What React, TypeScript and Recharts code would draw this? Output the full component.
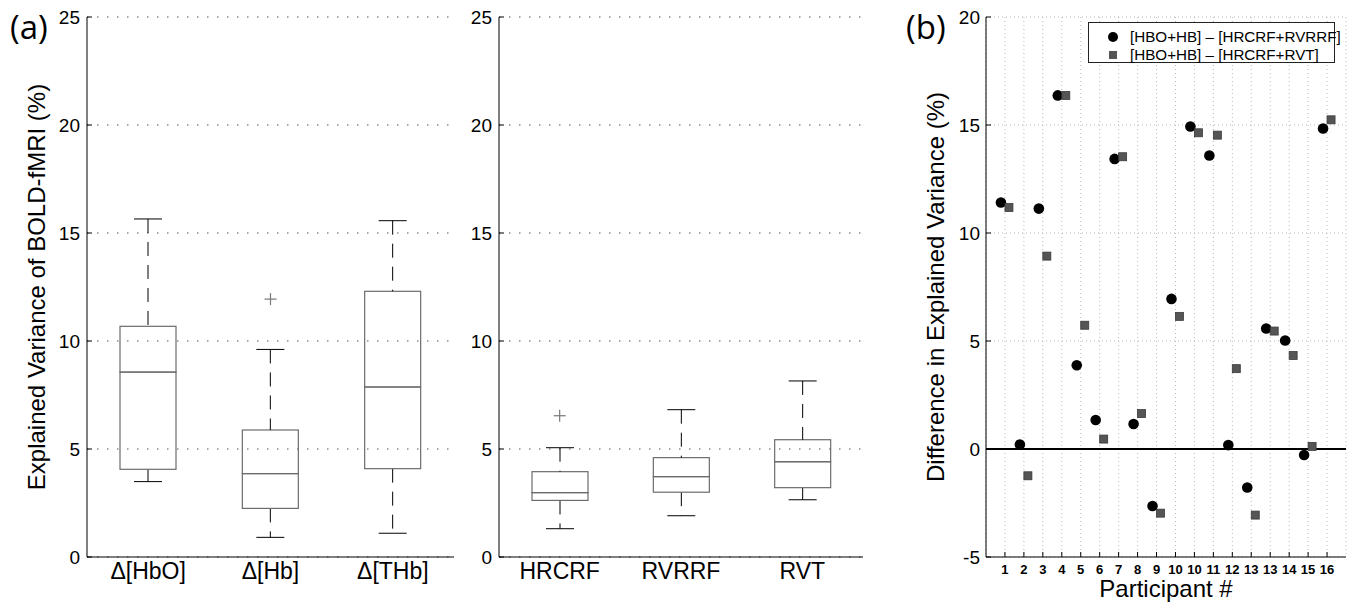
import React from 'react';
import {
  Bar,
  CartesianGrid,
  ComposedChart,
  Legend,
  ReferenceLine,
  Scatter,
  ScatterChart,
  XAxis,
  YAxis,
} from 'recharts';

// (a) left: haemoglobin regressors
const hemoLabels = ['Δ[HbO]', 'Δ[Hb]', 'Δ[THb]'];
const hemoMin = [3.49, 0.91, 1.1];
const hemoQ1 = [4.06, 2.25, 4.09];
const hemoMedian = [8.56, 3.86, 7.87];
const hemoQ3 = [10.68, 5.88, 12.3];
const hemoMax = [15.65, 9.61, 15.57];
const hemoOutlier = [null, 11.94, null];

// (a) right: physiological regressors
const physioLabels = ['HRCRF', 'RVRRF', 'RVT'];
const physioMin = [1.31, 1.91, 2.65];
const physioQ1 = [2.62, 3.0, 3.21];
const physioMedian = [2.98, 3.72, 4.41];
const physioQ3 = [3.95, 4.6, 5.43];
const physioMax = [5.06, 6.82, 8.15];
const physioOutlier = [6.54, null, null];

const varianceTicks = [0, 5, 10, 15, 20, 25];

// (b) per participant differences
const participants = [1, 2, 3, 4, 5, 6, 7, 8, 9, 10, 11, 12, 13, 14, 15, 16, 17, 18];
const participantLabels = ['1', '2', '3', '4', '5', '6', '7', '8', '9', '10', '10', '11', '12', '13', '13', '14', '15', '16'];
const diffRvrrf = [11.41, 0.21, 11.13, 16.37, 3.88, 1.34, 13.43, 1.16, -2.64, 6.95, 14.93, 13.59, 0.18, -1.78, 5.58, 5.02, -0.28, 14.84];
const diffRvt = [11.18, -1.24, 8.93, 16.37, 5.73, 0.46, 13.53, 1.64, -2.97, 6.14, 14.64, 14.53, 3.72, -3.06, 5.46, 4.33, 0.12, 15.24];
const diffTicks = [-5, 0, 5, 10, 15, 20];

type Num = number | null;

function boxRows(labels: string[], min: number[], q1: number[], med: number[], q3: number[], max: number[], out: Num[]) {
  return labels.map((name, i) => ({
    name,
    base: min[i],
    lowWhisker: q1[i] - min[i],
    lowBox: med[i] - q1[i],
    highBox: q3[i] - med[i],
    highWhisker: max[i] - q3[i],
    outlier: out[i],
  }));
}

const hemoRows = boxRows(hemoLabels, hemoMin, hemoQ1, hemoMedian, hemoQ3, hemoMax, hemoOutlier);
const physioRows = boxRows(physioLabels, physioMin, physioQ1, physioMedian, physioQ3, physioMax, physioOutlier);

const rvrrfPoints = participants.map((p, i) => ({ p, v: diffRvrrf[i] }));
const rvtPoints = participants.map((p, i) => ({ p, v: diffRvt[i] }));

const BOX_GREY = '#6c6c6c';
const WHISKER_DASH = '14 9';

function Whisker(props: any, capAtTop: boolean) {
  const { x, y, width, height } = props;
  const cx = x + width / 2;
  const capY = capAtTop ? y : y + height;
  return (
    <g>
      <line x1={cx} x2={cx} y1={y} y2={y + height} stroke="#000" strokeDasharray={WHISKER_DASH} />
      <line x1={cx - width / 4} x2={cx + width / 4} y1={capY} y2={capY} stroke="#000" />
    </g>
  );
}

function BoxPart(props: any) {
  const { x, y, width, height } = props;
  return <rect x={x} y={y} width={width} height={height} fill="none" stroke={BOX_GREY} strokeWidth={1.2} />;
}

function PlusMark(props: any) {
  const { cx, cy, payload } = props;
  if (payload?.outlier == null || cy == null || Number.isNaN(cy)) return <g />;
  return (
    <g stroke="#777" strokeWidth={1.2}>
      <line x1={cx - 6} x2={cx + 6} y1={cy} y2={cy} />
      <line x1={cx} x2={cx} y1={cy - 6} y2={cy + 6} />
    </g>
  );
}

function BoxPanel({ rows, left, width, margin, yAxisWidth, yLabel }: any) {
  return (
    <div style={{ position: 'absolute', left, top: 0 }}>
      <ComposedChart width={width} height={604} data={rows} margin={margin}>
        <CartesianGrid vertical={false} stroke="#555" strokeDasharray="1.5 8.5" />
        <XAxis
          dataKey="name"
          height={37}
          tickLine={false}
          tickSize={0}
          tickMargin={6}
          stroke="#000"
          tick={{ fill: '#000', fontSize: 23 }}
        />
        <XAxis xAxisId="top" dataKey="name" orientation="top" height={0} tickLine={false} tick={false} stroke="#333" />
        <YAxis
          type="number"
          domain={[0, 25]}
          ticks={varianceTicks}
          interval={0}
          width={yAxisWidth}
          tickSize={-5}
          tickMargin={12}
          stroke="#000"
          tick={{ fill: '#000', fontSize: 19 }}
          label={
            yLabel
              ? {
                  value: yLabel,
                  angle: -90,
                  position: 'insideLeft',
                  offset: 9,
                  fill: '#000',
                  fontSize: 24,
                  style: { textAnchor: 'middle' },
                }
              : undefined
          }
        />
        <YAxis
          yAxisId="right"
          orientation="right"
          type="number"
          domain={[0, 25]}
          ticks={varianceTicks}
          width={0}
          tickSize={-5}
          tickFormatter={() => ''}
          stroke="#000"
        />
        <Bar dataKey="base" stackId="box" barSize={56} shape={() => <g />} isAnimationActive={false} />
        <Bar dataKey="lowWhisker" stackId="box" barSize={56} shape={(p: any) => Whisker(p, false)} isAnimationActive={false} />
        <Bar dataKey="lowBox" stackId="box" barSize={56} shape={BoxPart} isAnimationActive={false} />
        <Bar dataKey="highBox" stackId="box" barSize={56} shape={BoxPart} isAnimationActive={false} />
        <Bar dataKey="highWhisker" stackId="box" barSize={56} shape={(p: any) => Whisker(p, true)} isAnimationActive={false} />
        <Scatter dataKey="outlier" shape={PlusMark} isAnimationActive={false} />
      </ComposedChart>
    </div>
  );
}

function CircleMark(props: any) {
  const { cx, cy } = props;
  return <circle cx={cx - 4} cy={cy} r={5.3} fill="#000" />;
}

function SquareMark(props: any) {
  const { cx, cy } = props;
  return <rect x={cx} y={cy - 4} width={8} height={8} fill="#555" stroke="#3a3a3a" strokeWidth={0.8} />;
}

function DiffLegend() {
  const row = { display: 'flex', alignItems: 'center', height: 18 } as const;
  const icon = { flexShrink: 0 } as const;
  return (
    <div
      style={{
        width: 247,
        height: 41,
        boxSizing: 'border-box',
        border: '1px solid #222',
        background: '#fff',
        padding: '5px 0 0 17px',
        fontSize: 15.2,
        lineHeight: '18px',
        color: '#000',
        whiteSpace: 'nowrap',
      }}
    >
      <div style={row}>
        <svg width={24} height={12} style={icon}>
          <circle cx={7} cy={6} r={5} fill="#000" />
        </svg>
        <span>[HBO+HB] – [HRCRF+RVRRF]</span>
      </div>
      <div style={row}>
        <svg width={24} height={12} style={icon}>
          <rect x={3} y={2} width={8} height={8} fill="#555" />
        </svg>
        <span>[HBO+HB] – [HRCRF+RVT]</span>
      </div>
    </div>
  );
}

function DiffPanel() {
  return (
    <div style={{ position: 'absolute', left: 880, top: 0 }}>
      <ScatterChart width={472} height={604} margin={{ top: 17, right: 6, bottom: 0, left: 36 }}>
        <CartesianGrid stroke="#b8b8b8" strokeDasharray="1 3" />
        <XAxis
          type="number"
          dataKey="p"
          domain={[0, 19]}
          ticks={participants}
          interval={0}
          tickFormatter={(v: number) => participantLabels[participants.indexOf(v)]}
          height={47}
          tickSize={-5}
          tickMargin={13}
          stroke="#000"
          tick={{ fill: '#000', fontSize: 13, fontWeight: 'bold' }}
          label={{ value: 'Participant #', position: 'insideBottom', offset: 7, fill: '#000', fontSize: 24 }}
        />
        <XAxis
          xAxisId="top"
          orientation="top"
          type="number"
          dataKey="p"
          domain={[0, 19]}
          ticks={participants}
          interval={0}
          height={0}
          tickSize={-5}
          tickFormatter={() => ''}
          stroke="#000"
        />
        <YAxis
          type="number"
          dataKey="v"
          domain={[-5, 20]}
          ticks={diffTicks}
          interval={0}
          width={70}
          tickSize={-5}
          tickMargin={11}
          stroke="#000"
          tick={{ fill: '#000', fontSize: 19 }}
          label={{
            value: 'Difference in Explained Variance (%)',
            angle: -90,
            position: 'insideLeft',
            offset: 19.5,
            fill: '#000',
            fontSize: 24,
            style: { textAnchor: 'middle' },
          }}
        />
        <YAxis
          yAxisId="right"
          orientation="right"
          type="number"
          dataKey="v"
          domain={[-5, 20]}
          ticks={diffTicks}
          interval={0}
          width={0}
          tickSize={-5}
          tickFormatter={() => ''}
          stroke="#000"
        />
        <ReferenceLine y={0} stroke="#000" strokeWidth={2} />
        <Legend
          layout="vertical"
          align="center"
          verticalAlign="middle"
          wrapperStyle={{ left: 208, top: 22, width: 247 }}
          content={() => <DiffLegend />}
        />
        <Scatter name="[HBO+HB] – [HRCRF+RVRRF]" data={rvrrfPoints} shape={CircleMark} isAnimationActive={false} />
        <Scatter name="[HBO+HB] – [HRCRF+RVT]" data={rvtPoints} shape={SquareMark} isAnimationActive={false} />
      </ScatterChart>
    </div>
  );
}

const panelTag = {
  position: 'absolute',
  top: 10,
  fontSize: 33,
  lineHeight: 1,
  fontFamily: '"Open Sans", sans-serif',
  color: '#000',
} as const;

export default function App() {
  return (
    <div
      style={{
        position: 'absolute',
        left: 0,
        top: 0,
        width: 1352,
        height: 604,
        background: '#fff',
        fontFamily: '"Liberation Sans", Arial, sans-serif',
        overflow: 'hidden',
      }}
    >
      <BoxPanel
        rows={hemoRows}
        left={0}
        width={470}
        margin={{ top: 17, right: 16, bottom: 10, left: 27 }}
        yAxisWidth={60}
        yLabel="Explained Variance of BOLD-fMRI (%)"
      />
      <BoxPanel
        rows={physioRows}
        left={440}
        width={440}
        margin={{ top: 17, right: 17, bottom: 10, left: 9 }}
        yAxisWidth={50}
      />
      <DiffPanel />
      <div style={{ ...panelTag, left: 10 }}>(a)</div>
      <div style={{ ...panelTag, left: 906 }}>(b)</div>
    </div>
  );
}
